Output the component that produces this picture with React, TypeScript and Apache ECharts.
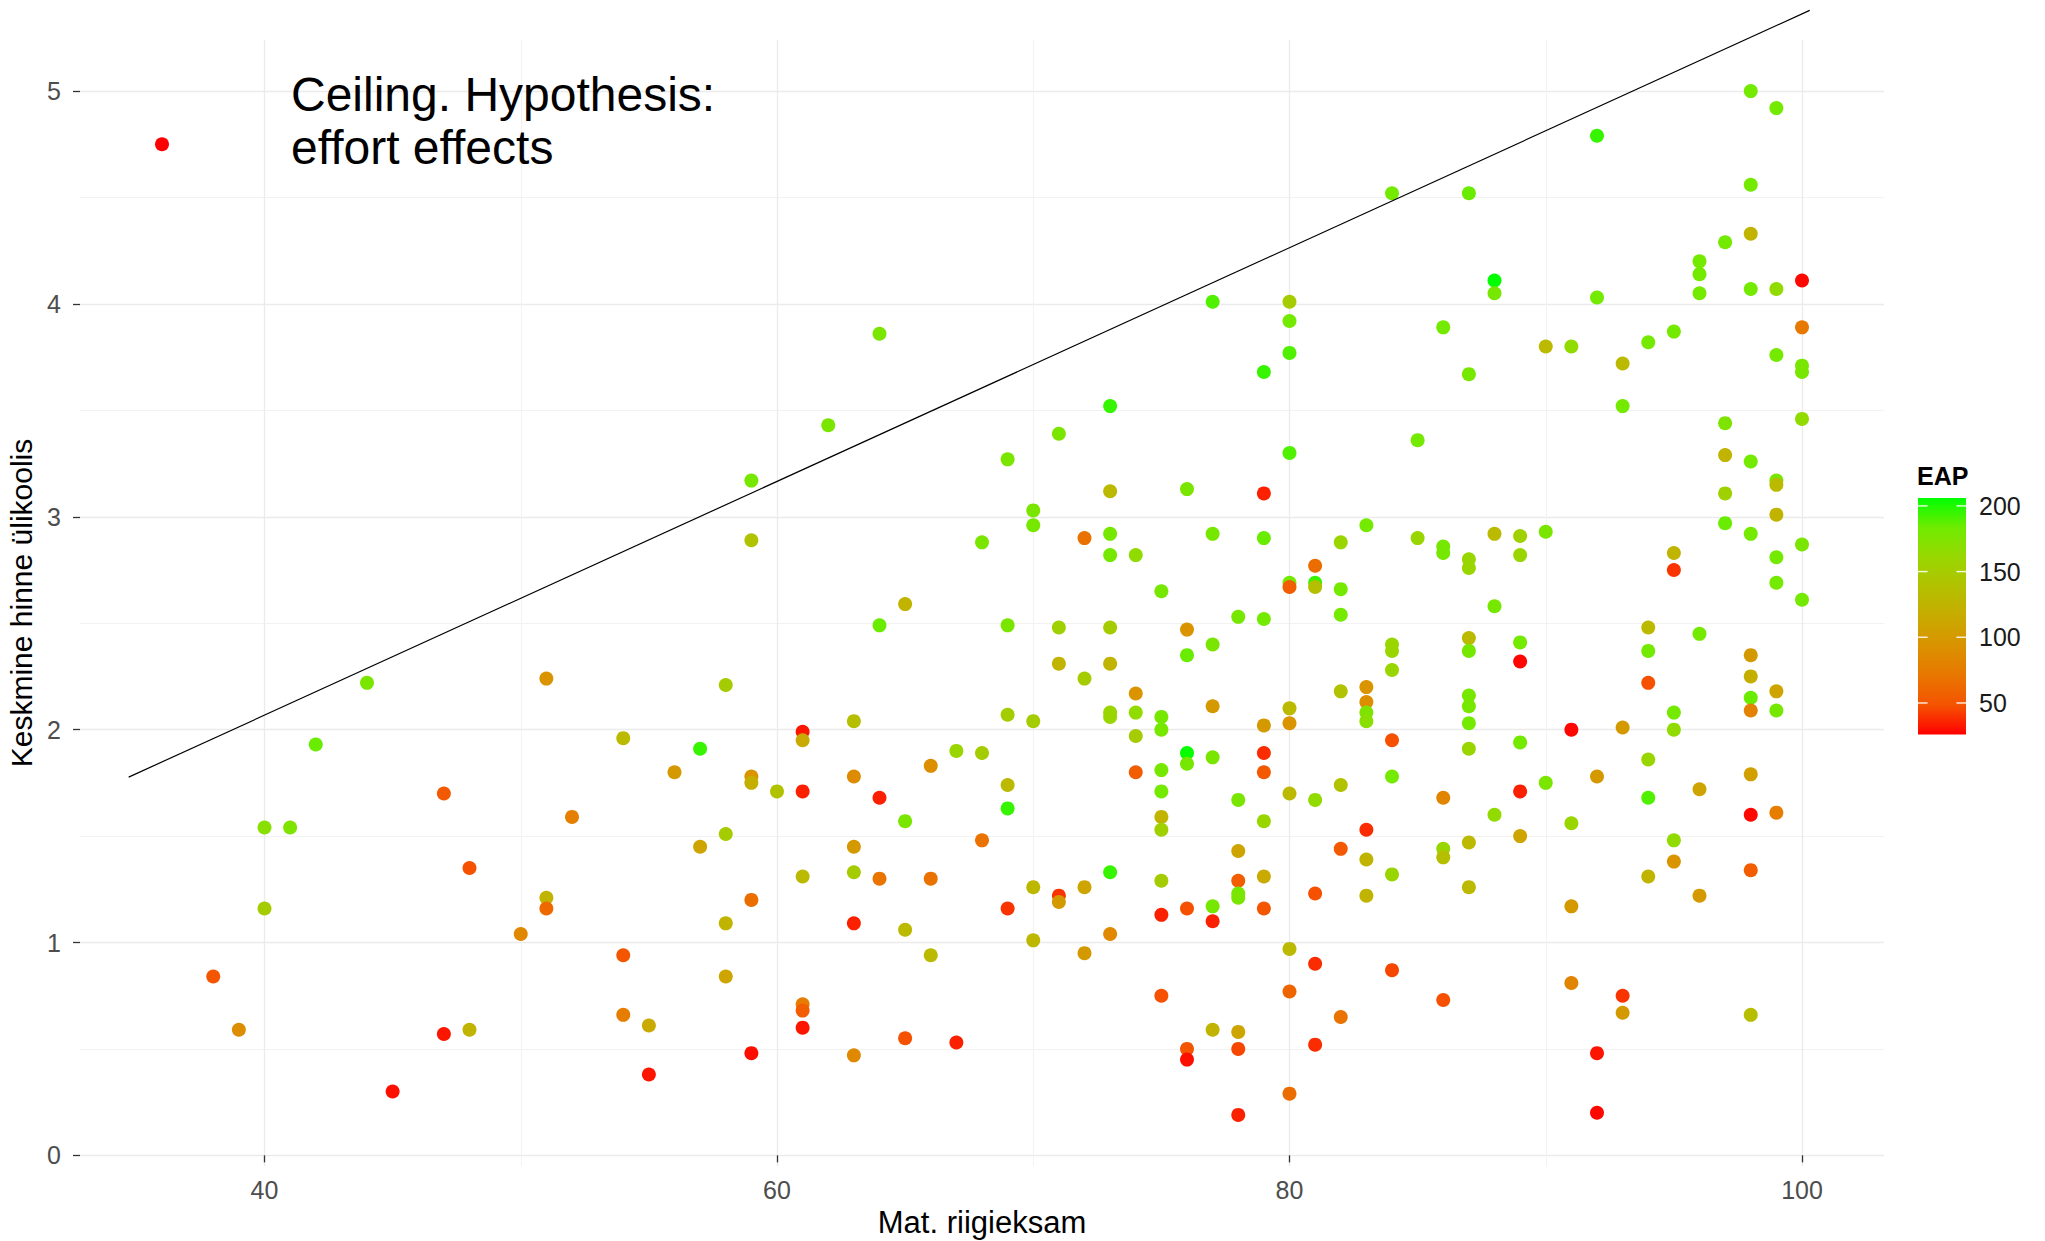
import React, { useEffect, useRef } from "react";
import * as echarts from "echarts";

const FONT = '"Liberation Sans", Arial, Helvetica, sans-serif';

// ---- data: math state exam score (x), university grade average (y), EAP (colour) ----
const scoreColumns = [
  36, 38, 39, 40, 41, 42, 44, 45, 47, 48,
  50, 51, 52, 54, 55, 56, 57, 58, 59, 60,
  61, 62, 63, 64, 65, 66, 67, 68, 69, 70,
  71, 72, 73, 74, 75, 76, 77, 78, 79, 80,
  81, 82, 83, 84, 85, 86, 87, 88, 89, 90,
  91, 92, 93, 94, 95, 96, 97, 98, 99, 100,
];

const gradesByColumn = [
  [4.75], [0.84], [0.59], [1.54, 1.16], [1.54], [1.93], [2.22], [0.3], [1.7, 0.57], [1.35, 0.59],
  [1.04], [2.24, 1.21, 1.16], [1.59], [1.96, 0.94, 0.66], [0.61, 0.38], [1.8], [1.91, 1.45], [2.21, 1.51, 1.09, 0.84], [3.17, 2.89, 1.78, 1.75, 1.2, 0.48], [1.71],
  [1.99, 1.95, 1.71, 1.31, 0.71, 0.68, 0.6], [3.43], [2.04, 1.78, 1.45, 1.33, 1.09, 0.47], [3.86, 2.49, 1.68, 1.3], [2.59, 1.57, 1.06, 0.55], [1.83, 1.3, 0.94], [1.9, 0.53], [2.88, 1.89, 1.48], [3.27, 2.49, 2.07, 1.74, 1.63, 1.16], [3.03, 2.96, 2.04, 1.26, 1.01],
  [3.39, 2.48, 2.31, 1.22, 1.19], [2.9, 2.24, 1.26, 0.95], [3.52, 3.12, 2.92, 2.82, 2.48, 2.31, 2.08, 2.06, 1.33, 1.04], [2.82, 2.17, 2.08, 1.97, 1.8], [2.65, 2.06, 2.0, 1.81, 1.71, 1.59, 1.53, 1.29, 1.13, 0.75], [3.13, 2.47, 2.35, 1.89, 1.84, 1.16, 0.5, 0.45], [4.01, 2.92, 2.4, 2.11, 1.87, 1.17, 1.1, 0.59], [2.53, 1.67, 1.43, 1.29, 1.23, 1.21, 0.58, 0.5, 0.19], [3.68, 3.11, 2.9, 2.52, 2.02, 1.89, 1.8, 1.57, 1.31, 1.16], [4.01, 3.92, 3.77, 3.3, 2.69, 2.67, 2.1, 2.03, 1.7, 0.97, 0.77, 0.29],
  [2.77, 2.69, 2.67, 1.67, 1.23, 0.9, 0.52], [2.88, 2.66, 2.54, 2.18, 1.74, 1.44, 0.65], [2.96, 2.2, 2.13, 2.08, 2.04, 1.53, 1.39, 1.22], [4.52, 2.4, 2.37, 2.28, 1.95, 1.78, 1.32, 0.87], [3.36, 2.9], [3.89, 2.86, 2.83, 1.68, 1.44, 1.4, 0.73], [4.52, 3.67, 2.8, 2.76, 2.43, 2.37, 2.16, 2.11, 2.03, 1.91, 1.47, 1.26], [4.11, 4.05, 2.92, 2.58, 1.6], [2.91, 2.82, 2.41, 2.32, 1.94, 1.71, 1.5], [3.8, 2.93, 1.75],
  [3.8, 2.0, 1.56, 1.17, 0.81], [4.79, 4.03, 1.78, 0.48, 0.2], [3.72, 3.52, 2.01, 0.75, 0.67], [3.82, 2.48, 2.37, 2.22, 1.86, 1.68, 1.31], [3.87, 2.83, 2.75, 2.08, 2.0, 1.48, 1.38], [4.2, 4.14, 4.05, 2.45, 1.72, 1.22], [4.29, 3.44, 3.29, 3.11, 2.97], [5.0, 4.56, 4.33, 4.07, 3.26, 2.92, 2.35, 2.25, 2.15, 2.09, 1.79, 1.6, 1.34, 0.66], [4.92, 4.07, 3.76, 3.17, 3.15, 3.01, 2.81, 2.69, 2.18, 2.09, 1.61], [4.11, 3.89, 3.71, 3.68, 3.46, 2.87, 2.61],
];

const eapByColumn = [
  [26], [50], [90], [170, 150], [175], [185], [178], [30], [52, 32], [48, 125],
  [85], [95, 125, 62], [78], [130, 50, 75], [115, 32], [100], [195, 110], [150, 150, 125, 110], [180, 140, 95, 120, 65, 30], [140],
  [32, 115, 35, 130, 75, 55, 32], [178], [135, 88, 100, 150, 35, 85], [178, 185, 35, 70], [125, 178, 130, 48], [90, 68, 130], [160, 35], [178, 150, 68], [178, 178, 150, 130, 195, 40], [178, 180, 150, 128, 128],
  [178, 155, 125, 40, 100], [68, 150, 110, 100], [195, 130, 180, 180, 150, 125, 160, 160, 195, 85], [165, 95, 165, 150, 55], [180, 180, 180, 180, 182, 125, 155, 150, 35, 48], [178, 95, 185, 205, 180, 48, 50, 30], [190, 180, 178, 100, 178, 180, 35, 125], [180, 178, 110, 55, 180, 178, 110, 45, 35], [195, 35, 185, 182, 100, 38, 52, 160, 115, 50], [150, 182, 190, 190, 182, 55, 130, 95, 130, 130, 60, 65],
  [65, 195, 135, 165, 48, 38, 38], [160, 182, 182, 140, 140, 52, 68], [182, 95, 90, 175, 170, 38, 125, 125], [182, 160, 160, 160, 48, 182, 160, 45], [182, 160], [182, 180, 180, 82, 160, 135, 48], [185, 180, 160, 160, 130, 180, 180, 180, 182, 160, 130, 130], [206, 180, 130, 180, 165], [155, 160, 182, 28, 182, 35, 110], [130, 178, 178],
  [165, 28, 160, 100, 82], [195, 182, 100, 32, 28], [130, 182, 100, 40, 100], [182, 130, 182, 48, 160, 190, 125], [182, 125, 40, 182, 165, 165, 95], [182, 182, 182, 182, 110, 100], [182, 175, 125, 155, 185], [182, 182, 125, 182, 182, 182, 100, 120, 185, 80, 105, 28, 55, 135], [182, 165, 182, 178, 130, 125, 182, 182, 110, 180, 75], [28, 72, 178, 178, 165, 178, 182],
];

// ceiling line endpoints (x, y)
const ceilingLine = [
  [34.7, 1.777],
  [100.3, 5.379],
];

// axes
const xRange = [32.8, 103.2];
const yRange = [-0.05, 5.24];
const xMajor = [40, 60, 80, 100];
const xMinor = [50, 70, 90];
const yMajor = [0, 1, 2, 3, 4, 5];
const yMinor = [0.5, 1.5, 2.5, 3.5, 4.5];

// colour scale (red -> green, Lab-like interpolation)
const eapRange = [26, 206];
const eapColors = ["#FF0000", "#F55300", "#E87700", "#DA9200", "#C8AB00", "#B3C100", "#98D700", "#70EB00", "#00FF00"];
const legendValues = [50, 100, 150, 200];

const xTitle = "Mat. riigieksam";
const yTitle = "Keskmine hinne ülikoolis";
const legendTitle = "EAP";
const annotationLines = ["Ceiling. Hypothesis:", "effort effects"];

function buildPoints() {
  const pts: number[][] = [];
  scoreColumns.forEach((x, i) => {
    gradesByColumn[i].forEach((y, j) => {
      pts.push([x, y, eapByColumn[i][j]]);
    });
  });
  return pts;
}

function buildOption() {
  const points = buildPoints();

  // legend geometry
  const barX = 1918;
  const barY = 498;
  const barW = 48;
  const barH = 236.5;
  const legendY = (v: number) => barY + ((eapRange[1] - v) / (eapRange[1] - eapRange[0])) * barH;

  const gradStops = eapColors
    .slice()
    .reverse()
    .map((c, i, arr) => ({ offset: i / (arr.length - 1), color: c }));

  const legendGraphics: any[] = [
    {
      type: "rect",
      shape: { x: barX, y: barY, width: barW, height: barH },
      style: { fill: new echarts.graphic.LinearGradient(0, 0, 0, 1, gradStops) },
      z: 10,
    },
    {
      type: "text",
      x: barX - 1,
      y: 476,
      style: { text: legendTitle, font: `bold 25px ${FONT}`, fill: "#000", verticalAlign: "middle", align: "left" },
      z: 10,
    },
  ];
  legendValues.forEach((v) => {
    const y = legendY(v);
    legendGraphics.push(
      {
        type: "line",
        shape: { x1: barX, y1: y, x2: barX + barW / 5, y2: y },
        style: { stroke: "rgba(255,255,255,0.85)", lineWidth: 1.5 },
        z: 11,
      },
      {
        type: "line",
        shape: { x1: barX + barW - barW / 5, y1: y, x2: barX + barW, y2: y },
        style: { stroke: "rgba(255,255,255,0.85)", lineWidth: 1.5 },
        z: 11,
      },
      {
        type: "text",
        x: 1979,
        y: y,
        style: { text: String(v), font: `25px ${FONT}`, fill: "#1a1a1a", verticalAlign: "middle", align: "left" },
        z: 11,
      }
    );
  });

  const tickLabel = { color: "#4d4d4d", fontSize: 25, fontFamily: FONT };

  return {
    animation: false,
    backgroundColor: "#ffffff",
    textStyle: { fontFamily: FONT },
    grid: { left: 80, right: 161, top: 40, bottom: 75, containLabel: false, outerBoundsMode: "none" },
    xAxis: [
      {
        type: "value",
        min: xRange[0],
        max: xRange[1],
        position: "bottom",
        axisLine: { show: false },
        axisTick: { show: true, length: 7, lineStyle: { color: "#333333", width: 1.3 }, customValues: xMajor },
        axisLabel: { ...tickLabel, customValues: xMajor, margin: 11 },
        splitLine: { show: true, lineStyle: { color: "#ebebeb", width: 1.3 } },
        name: xTitle,
        nameLocation: "middle",
        nameGap: 40,
        nameTextStyle: { fontSize: 31, color: "#000", fontFamily: FONT },
      },
      {
        type: "value",
        min: xRange[0],
        max: xRange[1],
        position: "bottom",
        axisLine: { show: false },
        axisTick: { show: false, customValues: xMinor },
        axisLabel: { show: false, customValues: xMinor },
        splitLine: { show: true, lineStyle: { color: "#f2f2f2", width: 1 } },
      },
    ],
    yAxis: [
      {
        type: "value",
        min: yRange[0],
        max: yRange[1],
        position: "left",
        axisLine: { show: false },
        axisTick: { show: true, length: 7, lineStyle: { color: "#333333", width: 1.3 }, customValues: yMajor },
        axisLabel: { ...tickLabel, customValues: yMajor, margin: 19 },
        splitLine: { show: true, lineStyle: { color: "#ebebeb", width: 1.3 } },
        name: yTitle,
        nameLocation: "middle",
        nameGap: 27,
        nameRotate: 90,
        nameTextStyle: { fontSize: 30, color: "#000", fontFamily: FONT },
      },
      {
        type: "value",
        min: yRange[0],
        max: yRange[1],
        position: "left",
        axisLine: { show: false },
        axisTick: { show: false, customValues: yMinor },
        axisLabel: { show: false, customValues: yMinor },
        splitLine: { show: true, lineStyle: { color: "#f2f2f2", width: 1 } },
      },
    ],
    visualMap: {
      show: false,
      type: "continuous",
      min: eapRange[0],
      max: eapRange[1],
      dimension: 2,
      seriesIndex: 0,
      inRange: { color: eapColors },
    },
    series: [
      {
        type: "scatter",
        xAxisIndex: 0,
        yAxisIndex: 0,
        data: points,
        symbol: "circle",
        symbolSize: 14,
        itemStyle: { opacity: 1 },
        silent: true,
        z: 3,
      },
      {
        type: "line",
        xAxisIndex: 0,
        yAxisIndex: 0,
        data: ceilingLine,
        symbol: "none",
        clip: false,
        silent: true,
        lineStyle: { color: "#000000", width: 1.2 },
        z: 4,
      },
    ],
    graphic: [
      {
        type: "text",
        x: 291,
        y: 68,
        style: {
          text: annotationLines.join("\n"),
          font: `48px ${FONT}`,
          fill: "#000",
          lineHeight: 53,
          verticalAlign: "top",
          align: "left",
        },
        z: 10,
      },
      ...legendGraphics,
    ],
  };
}

export default function App() {
  const ref = useRef<HTMLDivElement>(null);
  useEffect(() => {
    if (!ref.current) return;
    const chart = echarts.init(ref.current, null, { renderer: "svg" });
    chart.setOption(buildOption() as any);
    return () => {
      chart.dispose();
    };
  }, []);
  return (
    <div
      ref={ref}
      style={{ position: "absolute", left: 0, top: 0, width: 2045, height: 1241, background: "#ffffff" }}
    />
  );
}
